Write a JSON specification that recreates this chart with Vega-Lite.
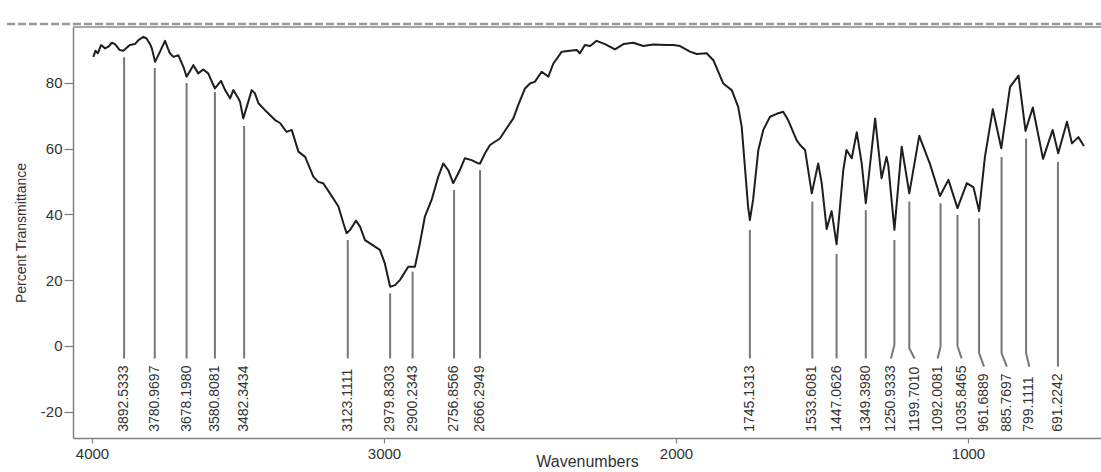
{
  "$schema": "https://vega.github.io/schema/vega-lite/v6.json",
  "width": 1028,
  "height": 411,
  "autosize": {"type": "none"},
  "padding": {"left": 73, "top": 27, "right": 0, "bottom": 34},
  "background": "white",
  "config": {
    "view": {"stroke": null},
    "font": "Liberation Sans",
    "axis": {"grid": false, "domainColor": "#808080", "domainWidth": 1.5, "tickColor": "#808080", "tickWidth": 1.2, "labelColor": "#333333", "titleColor": "#333333", "labelFont": "Liberation Sans", "titleFont": "Liberation Sans", "titleFontWeight": "normal"}
  },
  "datasets": {
    "spectrum": [
      {"wn": 3995, "t": 87.9}, {"wn": 3988, "t": 89.8}, {"wn": 3980, "t": 89.0}, {"wn": 3969, "t": 91.5}, {"wn": 3955, "t": 90.5},
      {"wn": 3944, "t": 91.0}, {"wn": 3932, "t": 92.2}, {"wn": 3921, "t": 91.8}, {"wn": 3905, "t": 90.0}, {"wn": 3893, "t": 89.8},
      {"wn": 3880, "t": 90.8}, {"wn": 3870, "t": 91.5}, {"wn": 3853, "t": 91.8}, {"wn": 3841, "t": 93.0}, {"wn": 3824, "t": 94.0},
      {"wn": 3813, "t": 93.5}, {"wn": 3800, "t": 91.6}, {"wn": 3795, "t": 90.5}, {"wn": 3784, "t": 86.4}, {"wn": 3767, "t": 89.5},
      {"wn": 3750, "t": 92.8}, {"wn": 3740, "t": 90.5}, {"wn": 3733, "t": 89.0}, {"wn": 3721, "t": 87.9}, {"wn": 3704, "t": 88.4},
      {"wn": 3687, "t": 84.9}, {"wn": 3676, "t": 81.9}, {"wn": 3665, "t": 83.5}, {"wn": 3653, "t": 85.4}, {"wn": 3636, "t": 82.9},
      {"wn": 3619, "t": 84.1}, {"wn": 3602, "t": 82.9}, {"wn": 3590, "t": 80.5}, {"wn": 3579, "t": 78.3}, {"wn": 3558, "t": 80.6},
      {"wn": 3544, "t": 77.8}, {"wn": 3527, "t": 75.3}, {"wn": 3516, "t": 77.8}, {"wn": 3500, "t": 75.5}, {"wn": 3493, "t": 74.3},
      {"wn": 3482, "t": 69.2}, {"wn": 3470, "t": 72.7}, {"wn": 3453, "t": 77.8}, {"wn": 3442, "t": 76.8}, {"wn": 3430, "t": 73.8},
      {"wn": 3402, "t": 71.2}, {"wn": 3373, "t": 68.7}, {"wn": 3356, "t": 67.8}, {"wn": 3339, "t": 65.7}, {"wn": 3333, "t": 65.1},
      {"wn": 3316, "t": 65.7}, {"wn": 3293, "t": 59.1}, {"wn": 3270, "t": 57.5}, {"wn": 3242, "t": 51.5}, {"wn": 3225, "t": 49.9},
      {"wn": 3208, "t": 49.5}, {"wn": 3185, "t": 46.4}, {"wn": 3156, "t": 42.4}, {"wn": 3139, "t": 37.3}, {"wn": 3128, "t": 34.3},
      {"wn": 3116, "t": 35.3}, {"wn": 3096, "t": 38.1}, {"wn": 3082, "t": 36.3}, {"wn": 3065, "t": 32.2}, {"wn": 3048, "t": 31.2},
      {"wn": 3014, "t": 29.2}, {"wn": 2997, "t": 25.1}, {"wn": 2979, "t": 18.0}, {"wn": 2962, "t": 18.5}, {"wn": 2945, "t": 20.1},
      {"wn": 2917, "t": 24.1}, {"wn": 2894, "t": 24.1}, {"wn": 2877, "t": 31.2}, {"wn": 2860, "t": 39.3}, {"wn": 2837, "t": 44.4},
      {"wn": 2814, "t": 51.5}, {"wn": 2797, "t": 55.5}, {"wn": 2780, "t": 53.5}, {"wn": 2763, "t": 49.5}, {"wn": 2740, "t": 53.5},
      {"wn": 2723, "t": 57.1}, {"wn": 2700, "t": 56.5}, {"wn": 2677, "t": 55.5}, {"wn": 2671, "t": 55.5}, {"wn": 2654, "t": 58.6},
      {"wn": 2637, "t": 61.1}, {"wn": 2603, "t": 63.1}, {"wn": 2580, "t": 66.2}, {"wn": 2557, "t": 69.2}, {"wn": 2540, "t": 73.3},
      {"wn": 2517, "t": 78.3}, {"wn": 2500, "t": 79.8}, {"wn": 2483, "t": 80.4}, {"wn": 2460, "t": 83.4}, {"wn": 2437, "t": 81.9},
      {"wn": 2420, "t": 85.9}, {"wn": 2391, "t": 89.5}, {"wn": 2363, "t": 89.8}, {"wn": 2340, "t": 90.0}, {"wn": 2329, "t": 89.0},
      {"wn": 2312, "t": 91.5}, {"wn": 2294, "t": 91.2}, {"wn": 2272, "t": 92.8}, {"wn": 2243, "t": 91.8}, {"wn": 2209, "t": 90.2},
      {"wn": 2180, "t": 91.8}, {"wn": 2146, "t": 92.2}, {"wn": 2112, "t": 91.2}, {"wn": 2078, "t": 91.7}, {"wn": 2032, "t": 91.5},
      {"wn": 2009, "t": 91.5}, {"wn": 1986, "t": 91.2}, {"wn": 1952, "t": 89.5}, {"wn": 1929, "t": 88.8}, {"wn": 1895, "t": 89.0},
      {"wn": 1872, "t": 86.9}, {"wn": 1838, "t": 79.8}, {"wn": 1809, "t": 77.8}, {"wn": 1787, "t": 72.7}, {"wn": 1775, "t": 66.7},
      {"wn": 1764, "t": 54.5}, {"wn": 1753, "t": 42.3}, {"wn": 1747, "t": 38.3}, {"wn": 1736, "t": 44.4}, {"wn": 1718, "t": 59.6},
      {"wn": 1701, "t": 65.7}, {"wn": 1678, "t": 69.7}, {"wn": 1655, "t": 70.6}, {"wn": 1633, "t": 71.2}, {"wn": 1616, "t": 68.7},
      {"wn": 1587, "t": 62.6}, {"wn": 1575, "t": 61.1}, {"wn": 1558, "t": 59.6}, {"wn": 1535, "t": 46.4}, {"wn": 1513, "t": 55.5},
      {"wn": 1501, "t": 49.5}, {"wn": 1484, "t": 35.6}, {"wn": 1467, "t": 41.0}, {"wn": 1450, "t": 30.9}, {"wn": 1427, "t": 53.5},
      {"wn": 1416, "t": 59.6}, {"wn": 1398, "t": 57.1}, {"wn": 1381, "t": 65.0}, {"wn": 1364, "t": 55.5}, {"wn": 1350, "t": 43.4},
      {"wn": 1318, "t": 69.2}, {"wn": 1296, "t": 51.0}, {"wn": 1279, "t": 57.5}, {"wn": 1273, "t": 55.0}, {"wn": 1252, "t": 35.3},
      {"wn": 1227, "t": 60.6}, {"wn": 1201, "t": 46.4}, {"wn": 1167, "t": 63.9}, {"wn": 1130, "t": 55.3}, {"wn": 1096, "t": 45.6},
      {"wn": 1067, "t": 50.5}, {"wn": 1036, "t": 41.9}, {"wn": 1004, "t": 49.5}, {"wn": 981, "t": 48.2}, {"wn": 962, "t": 41.0},
      {"wn": 942, "t": 57.5}, {"wn": 915, "t": 72.0}, {"wn": 886, "t": 60.1}, {"wn": 856, "t": 78.8}, {"wn": 827, "t": 82.2},
      {"wn": 803, "t": 65.4}, {"wn": 778, "t": 72.5}, {"wn": 743, "t": 56.9}, {"wn": 710, "t": 65.7}, {"wn": 691, "t": 58.6},
      {"wn": 661, "t": 68.2}, {"wn": 644, "t": 61.6}, {"wn": 622, "t": 63.5}, {"wn": 603, "t": 60.8}
    ],
    "leaders": [
      {"peak": "3892.5333", "step": 1, "wn": 3890, "t": 87.8}, {"peak": "3892.5333", "step": 2, "wn": 3890, "t": -3.8},
      {"peak": "3780.9697", "step": 1, "wn": 3785, "t": 84.5}, {"peak": "3780.9697", "step": 2, "wn": 3785, "t": -3.8},
      {"peak": "3678.1980", "step": 1, "wn": 3676, "t": 80.0}, {"peak": "3678.1980", "step": 2, "wn": 3676, "t": -3.8},
      {"peak": "3580.8081", "step": 1, "wn": 3579, "t": 77.2}, {"peak": "3580.8081", "step": 2, "wn": 3579, "t": -3.8},
      {"peak": "3482.3434", "step": 1, "wn": 3479, "t": 66.9}, {"peak": "3482.3434", "step": 2, "wn": 3479, "t": -3.8},
      {"peak": "3123.1111", "step": 1, "wn": 3124, "t": 32.2}, {"peak": "3123.1111", "step": 2, "wn": 3124, "t": -3.8},
      {"peak": "2979.8303", "step": 1, "wn": 2979, "t": 16.0}, {"peak": "2979.8303", "step": 2, "wn": 2979, "t": -3.8},
      {"peak": "2900.2343", "step": 1, "wn": 2902, "t": 22.6}, {"peak": "2900.2343", "step": 2, "wn": 2902, "t": -3.8},
      {"peak": "2756.8566", "step": 1, "wn": 2760, "t": 47.4}, {"peak": "2756.8566", "step": 2, "wn": 2760, "t": -3.8},
      {"peak": "2666.2949", "step": 1, "wn": 2671, "t": 53.5}, {"peak": "2666.2949", "step": 2, "wn": 2671, "t": -3.8},
      {"peak": "1745.1313", "step": 1, "wn": 1747, "t": 35.3}, {"peak": "1745.1313", "step": 2, "wn": 1747, "t": -3.8},
      {"peak": "1533.6081", "step": 1, "wn": 1533, "t": 43.9}, {"peak": "1533.6081", "step": 2, "wn": 1533, "t": -3.8},
      {"peak": "1447.0626", "step": 1, "wn": 1450, "t": 28.0}, {"peak": "1447.0626", "step": 2, "wn": 1450, "t": -3.8},
      {"peak": "1349.3980", "step": 1, "wn": 1350, "t": 41.3}, {"peak": "1349.3980", "step": 2, "wn": 1350, "t": -3.8},
      {"peak": "1250.9333", "step": 1, "wn": 1252, "t": 32.2}, {"peak": "1250.9333", "step": 2, "wn": 1252, "t": 0.3}, {"peak": "1250.9333", "step": 3, "wn": 1264, "t": -3.8},
      {"peak": "1199.7010", "step": 1, "wn": 1201, "t": 43.9}, {"peak": "1199.7010", "step": 2, "wn": 1201, "t": -0.7}, {"peak": "1199.7010", "step": 3, "wn": 1183, "t": -3.8},
      {"peak": "1092.0081", "step": 1, "wn": 1094, "t": 43.4}, {"peak": "1092.0081", "step": 2, "wn": 1094, "t": -0.2}, {"peak": "1092.0081", "step": 3, "wn": 1104, "t": -3.8},
      {"peak": "1035.8465", "step": 1, "wn": 1036, "t": 39.8}, {"peak": "1035.8465", "step": 2, "wn": 1036, "t": 0.0}, {"peak": "1035.8465", "step": 3, "wn": 1022, "t": -3.8},
      {"peak": "961.6889", "step": 1, "wn": 962, "t": 38.8}, {"peak": "961.6889", "step": 2, "wn": 962, "t": -2.2}, {"peak": "961.6889", "step": 3, "wn": 945, "t": -6.3},
      {"peak": "885.7697", "step": 1, "wn": 885, "t": 57.5}, {"peak": "885.7697", "step": 2, "wn": 885, "t": -2.2}, {"peak": "885.7697", "step": 3, "wn": 867, "t": -6.3},
      {"peak": "799.1111", "step": 1, "wn": 801, "t": 63.1}, {"peak": "799.1111", "step": 2, "wn": 801, "t": -2.2}, {"peak": "799.1111", "step": 3, "wn": 790, "t": -6.3},
      {"peak": "691.2242", "step": 1, "wn": 692, "t": 56.0}, {"peak": "691.2242", "step": 2, "wn": 692, "t": -6.3}
    ],
    "labels": [
      {"peak": "3892.5333", "wn": 3890}, {"peak": "3780.9697", "wn": 3785}, {"peak": "3678.1980", "wn": 3676},
      {"peak": "3580.8081", "wn": 3579}, {"peak": "3482.3434", "wn": 3479}, {"peak": "3123.1111", "wn": 3124},
      {"peak": "2979.8303", "wn": 2979}, {"peak": "2900.2343", "wn": 2902}, {"peak": "2756.8566", "wn": 2760},
      {"peak": "2666.2949", "wn": 2671}, {"peak": "1745.1313", "wn": 1747}, {"peak": "1533.6081", "wn": 1533},
      {"peak": "1447.0626", "wn": 1450}, {"peak": "1349.3980", "wn": 1350}, {"peak": "1250.9333", "wn": 1264},
      {"peak": "1199.7010", "wn": 1183}, {"peak": "1092.0081", "wn": 1104}, {"peak": "1035.8465", "wn": 1022},
      {"peak": "961.6889", "wn": 945}, {"peak": "885.7697", "wn": 867}, {"peak": "799.1111", "wn": 790},
      {"peak": "691.2242", "wn": 692}
    ]
  },
  "layer": [
    {
      "data": {"name": "spectrum"},
      "mark": {"type": "line", "color": "#1e1e1e", "strokeWidth": 2, "strokeJoin": "round"},
      "encoding": {
        "x": {
          "field": "wn", "type": "quantitative", "sort": null,
          "scale": {"domain": [544.5, 4065], "reverse": true, "nice": false, "zero": false},
          "axis": {"title": "Wavenumbers", "values": [4000, 3000, 2000, 1000], "format": "d", "tickSize": 5, "labelPadding": 3, "labelFontSize": 15, "titleFontSize": 16, "titlePadding": -8}
        },
        "y": {
          "field": "t", "type": "quantitative",
          "scale": {"domain": [-28, 97], "nice": false, "zero": false},
          "axis": {"title": "Percent Transmittance", "values": [-20, 0, 20, 40, 60, 80], "labelExpr": "datum.value < 0 ? '-' + abs(datum.value) : '' + datum.value", "tickSize": 9, "labelPadding": 2, "labelFontSize": 15, "titleFontSize": 14, "titlePadding": 12}
        },
        "order": {"field": "wn", "sort": "descending"}
      }
    },
    {
      "data": {"name": "leaders"},
      "mark": {"type": "line", "color": "#777777", "strokeWidth": 2},
      "encoding": {
        "x": {"field": "wn", "type": "quantitative"},
        "y": {"field": "t", "type": "quantitative"},
        "detail": {"field": "peak"},
        "order": {"field": "step"}
      }
    },
    {
      "data": {"name": "labels"},
      "mark": {"type": "text", "angle": 270, "align": "left", "baseline": "middle", "fontSize": 14, "color": "#333333", "font": "Liberation Sans"},
      "encoding": {
        "x": {"field": "wn", "type": "quantitative"},
        "y": {"datum": -26.1},
        "text": {"field": "peak"}
      }
    },
    {
      "data": {"values": [{}]},
      "mark": {"type": "rule", "color": "#8a8a8a", "strokeWidth": 1.5},
      "encoding": {"y": {"datum": 97}}
    },
    {
      "data": {"values": [{}]},
      "mark": {"type": "rule", "color": "#9a9a9a", "strokeWidth": 2.5, "strokeDash": [8, 3]},
      "encoding": {"x": {"datum": 4291}, "x2": {"datum": 544.5}, "y": {"datum": 97.9}}
    }
  ]
}
